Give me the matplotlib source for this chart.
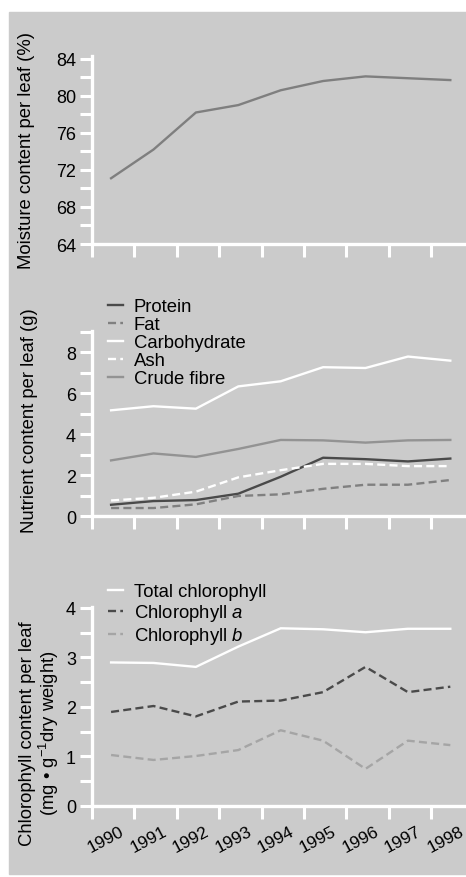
import numpy as np
import matplotlib
matplotlib.use('Agg')
import matplotlib.pyplot as plt
from matplotlib.patches import Rectangle
from matplotlib.ticker import MultipleLocator

plt.rcParams['font.family'] = ['Liberation Sans', 'DejaVu Sans']
plt.rcParams['mathtext.fontset'] = 'custom'
plt.rcParams['mathtext.it'] = 'Liberation Sans:italic'
plt.rcParams['mathtext.rm'] = 'Liberation Sans'

# Data
years = ['1990', '1991', '1992', '1993', '1994', '1995', '1996', '1997', '1998']

moisture = [71.1, 74.2, 78.2, 79.0, 80.6, 81.6, 82.1, 81.9, 81.7]

protein = [0.55, 0.73, 0.78, 1.09, 1.92, 2.85, 2.78, 2.67, 2.81]
fat = [0.39, 0.39, 0.57, 0.98, 1.06, 1.33, 1.53, 1.53, 1.76]
carbohydrate = [5.17, 5.37, 5.25, 6.34, 6.59, 7.28, 7.24, 7.80, 7.60]
ash = [0.76, 0.89, 1.19, 1.89, 2.24, 2.55, 2.55, 2.44, 2.44]
crude_fibre = [2.72, 3.06, 2.89, 3.28, 3.72, 3.70, 3.59, 3.70, 3.72]

chl_total = [2.90, 2.89, 2.81, 3.22, 3.59, 3.57, 3.51, 3.58, 3.58]
chl_a = [1.90, 2.02, 1.81, 2.11, 2.13, 2.30, 2.81, 2.30, 2.41]
chl_b = [1.03, 0.93, 1.01, 1.13, 1.53, 1.32, 0.75, 1.32, 1.23]

BG = '#cbcbcb'
FS = 13.3
x = np.arange(len(years))

fig = plt.figure(figsize=(4.66, 8.78), dpi=100)
fig.patches.append(Rectangle((9 / 466, 3 / 878), 1, 862 / 878,
                             transform=fig.transFigure, color=BG, zorder=-10))


def style_axes(ax, ylim, major, minor):
    """ White spines and ticks on the grey panel. """
    ax.set_facecolor('none')
    ax.set_xlim(-0.45, 8.37)
    ax.set_ylim(*ylim)
    for s in ['top', 'right']:
        ax.spines[s].set_visible(False)
    for s in ['left', 'bottom']:
        ax.spines[s].set_color('white')
        ax.spines[s].set_linewidth(2.4)
    ax.yaxis.set_major_locator(MultipleLocator(major))
    ax.yaxis.set_minor_locator(MultipleLocator(minor))
    ax.set_xticks(np.arange(9) - 0.45)
    ax.set_xticklabels([])
    ax.tick_params(axis='both', which='both', color='white', width=2.2,
                   length=9, labelsize=13, pad=2.5)
    ax.tick_params(axis='x', which='minor', length=0)


def legend(ax, top, spacing):
    ax.legend(loc='upper left', bbox_to_anchor=(108 / 466, 1 - top / 878),
              bbox_transform=fig.transFigure, frameon=False, fontsize=FS,
              handlelength=0.8, handletextpad=0.6, labelspacing=spacing,
              borderpad=0, borderaxespad=0)


dashed = dict(ls=(0, (3.4, 1.8)))

# Moisture
ax1 = fig.add_axes([92 / 466, 1 - 245 / 878, 374 / 466, 188 / 878])
style_axes(ax1, (64, 84.3), 4, 2)
ax1.plot(x, moisture, color='#7f7f7f', lw=1.7)
ax1.set_ylabel('Moisture content per leaf (%)', fontsize=FS)
ax1.yaxis.set_label_coords(-0.152, 0.505)

# Nutrients
ax2 = fig.add_axes([92 / 466, 1 - 517 / 878, 374 / 466, 185 / 878])
style_axes(ax2, (0, 9.05), 2, 1)
ax2.plot(x, protein, color='#4a4a4a', lw=1.7, label='Protein')
ax2.plot(x, fat, color='#808080', lw=1.7, label='Fat', **dashed)
ax2.plot(x, carbohydrate, color='white', lw=1.7, label='Carbohydrate')
ax2.plot(x, ash, color='white', lw=1.7, label='Ash', **dashed)
ax2.plot(x, crude_fibre, color='#939393', lw=1.7, label='Crude fibre')
ax2.set_ylabel('Nutrient content per leaf (g)', fontsize=FS)
ax2.yaxis.set_label_coords(-0.144, 0.52)
legend(ax2, 299, 0.06)

# Chlorophyll
ax3 = fig.add_axes([92 / 466, 1 - 807 / 878, 374 / 466, 199 / 878])
style_axes(ax3, (0, 4.02), 1, 0.5)
ax3.plot(x, chl_total, color='white', lw=1.7, label='Total chlorophyll')
ax3.plot(x, chl_a, color='#4a4a4a', lw=1.7, label='Chlorophyll $a$', **dashed)
ax3.plot(x, chl_b, color='#a5a5a5', lw=1.7, label='Chlorophyll $b$', **dashed)
ax3.set_xticks(x - 0.12, minor=True)
ax3.set_xticklabels(years, minor=True, rotation=28, ha='center', fontsize=12.5)
ax3.tick_params(axis='x', which='minor', pad=12)
ax3.set_ylabel('Chlorophyll content per leaf\n(mg \u2022 g$^{-1}$dry weight)',
               fontsize=FS, linespacing=1.05)
ax3.yaxis.set_label_coords(-0.084, 0.37)
legend(ax3, 584, 0.12)

fig.savefig('out.png', dpi=100)
